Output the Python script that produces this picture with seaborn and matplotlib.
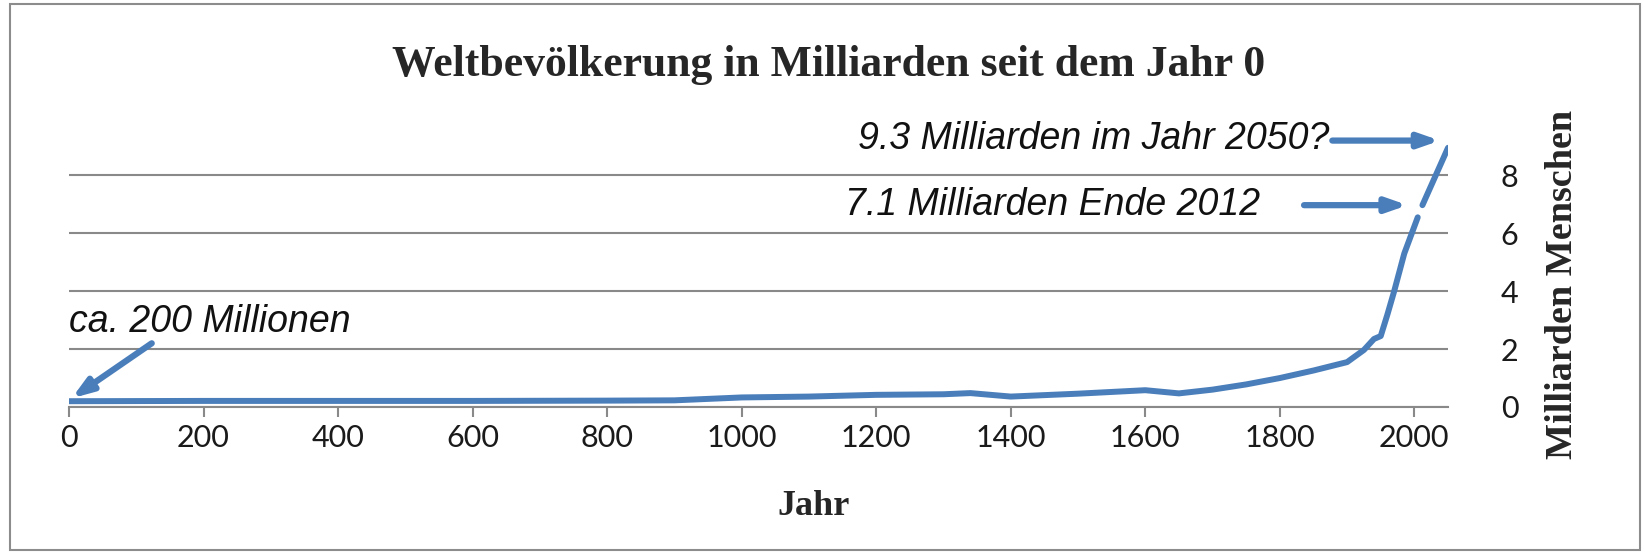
import matplotlib
matplotlib.use("Agg")
import matplotlib.pyplot as plt
import seaborn as sns
from matplotlib.patches import Rectangle

# Weltbevölkerung in Milliarden
hist_years = [0, 200, 400, 600, 800, 900, 1000, 1100, 1200, 1300, 1340, 1400,
              1500, 1600, 1650, 1700, 1750, 1800, 1850, 1900, 1925, 1940, 1950,
              1960, 1970, 1985, 2005]
hist_pop = [0.2, 0.21, 0.21, 0.21, 0.22, 0.23, 0.33, 0.36, 0.42, 0.44, 0.48, 0.36,
            0.46, 0.58, 0.47, 0.6, 0.78, 1.0, 1.26, 1.55, 1.97, 2.35, 2.45,
            3.2, 4.0, 5.3, 6.55]
proj_years = [2012, 2050]
proj_pop = [6.97, 8.95]

x_ticks = [0, 200, 400, 600, 800, 1000, 1200, 1400, 1600, 1800, 2000]
y_ticks = [0, 2, 4, 6, 8]

title = "Weltbevölkerung in Milliarden seit dem Jahr 0"
blue = "#4A7EBB"
grey = "#898989"

sns.set_style("white")
plt.rcParams["font.family"] = ["Lato", "DejaVu Sans"]

fig = plt.figure(figsize=(16.45, 5.53), dpi=100)
W, H = 1645, 553
ax = fig.add_axes([69 / W, 1 - 407 / H, (1448 - 69) / W, (407 - 129) / H])

sns.lineplot(x=hist_years, y=hist_pop, ax=ax, color=blue, linewidth=4.3,
             solid_capstyle="round")
sns.lineplot(x=proj_years, y=proj_pop, ax=ax, color=blue, linewidth=4.3,
             solid_capstyle="round")

ax.set_xlim(0, 2050)
ax.set_ylim(0, 9.6)
ax.set_xticks(x_ticks)
ax.set_yticks(y_ticks)
ax.yaxis.tick_right()
ax.yaxis.set_label_position("right")
ax.grid(axis="y", color=grey, linewidth=1.5)
ax.grid(axis="x", visible=False)
ax.set_axisbelow(True)
for side in ["top", "left", "right"]:
    ax.spines[side].set_visible(False)
ax.spines["bottom"].set_color(grey)
ax.spines["bottom"].set_linewidth(1.5)
ax.tick_params(axis="x", direction="out", length=7, width=1.5, color=grey,
               labelsize=22, pad=5, labelcolor="#1a1a1a", bottom=True)
ax.tick_params(axis="y", length=0, labelsize=22, pad=38, labelcolor="#1a1a1a")
for lab in ax.get_yticklabels():
    lab.set_horizontalalignment("left")

ax.set_xlabel("Jahr", family="Liberation Serif", fontweight="bold", fontsize=26)
ax.xaxis.set_label_coords(0.54, -0.30)
ax.set_ylabel("Milliarden Menschen", family="Liberation Serif",
              fontweight="bold", fontsize=27.5)
ax.yaxis.set_label_coords(1.07, 0.44)

fig.text(829 / W, 1 - 65 / H, title, family="Liberation Serif",
         fontweight="bold", fontsize=31.5, ha="center", va="center")

# Anmerkungen mit Pfeilen
note = dict(family="Liberation Sans", style="italic", fontsize=27,
            color="#111111", va="center")
arrow = dict(arrowstyle="-|>,head_length=1.2,head_width=0.42", color=blue,
             lw=4.5, shrinkA=0, shrinkB=0)

ax.text(0, 2.93, "ca. 200 Millionen", ha="left", clip_on=False, **note)
ax.annotate("", xy=(4, 0.3), xytext=(123, 2.2), arrowprops=arrow,
            annotation_clip=False)

ax.text(1770, 6.97, "7.1 Milliarden Ende 2012", ha="right", clip_on=False, **note)
ax.annotate("", xy=(1990, 6.97), xytext=(1836, 6.97), arrowprops=arrow,
            annotation_clip=False)

ax.text(1873, 9.25, "9.3 Milliarden im Jahr 2050?", ha="right", clip_on=False, **note)
ax.annotate("", xy=(2038, 9.2), xytext=(1878, 9.2), arrowprops=arrow,
            annotation_clip=False)

# Rahmen um das ganze Diagramm
fig.patches.append(Rectangle((10 / W, 3 / H), 1630 / W, 546 / H,
                             transform=fig.transFigure, fill=False,
                             edgecolor="#8c8c8c", linewidth=1.5))

fig.savefig("out.png", dpi=100)
